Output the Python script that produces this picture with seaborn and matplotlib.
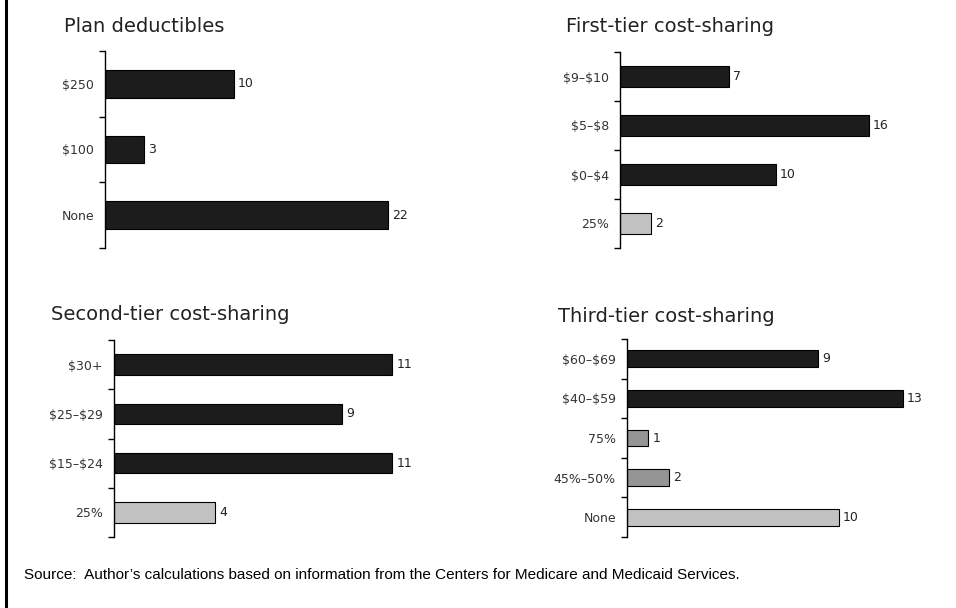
import matplotlib
matplotlib.use("Agg")
import matplotlib.pyplot as plt
from matplotlib.lines import Line2D
import seaborn as sns

# data
deduct_labels = ["$250", "$100", "None"]
deduct_values = [10, 3, 22]
deduct_colors = ["#1c1c1c", "#1c1c1c", "#1c1c1c"]

tier1_labels = ["$9\u2013$10", "$5\u2013$8", "$0\u2013$4", "25%"]
tier1_values = [7, 16, 10, 2]
tier1_colors = ["#1c1c1c", "#1c1c1c", "#1c1c1c", "#c2c2c2"]

tier2_labels = ["$30+", "$25\u2013$29", "$15\u2013$24", "25%"]
tier2_values = [11, 9, 11, 4]
tier2_colors = ["#1c1c1c", "#1c1c1c", "#1c1c1c", "#c2c2c2"]

tier3_labels = ["$60\u2013$69", "$40\u2013$59", "75%", "45%\u201350%", "None"]
tier3_values = [9, 13, 1, 2, 10]
tier3_colors = ["#1c1c1c", "#1c1c1c", "#959595", "#959595", "#c2c2c2"]

SOURCE = "Source:  Author\u2019s calculations based on information from the Centers for Medicare and Medicaid Services."

W, H = 956, 608


def px_box(left, top, right, bottom):
    return [left / W, (H - bottom) / H, (right - left) / W, (bottom - top) / H]


def panel(fig, box, title, title_xy, labels, values, colors, xmax):
    ax = fig.add_axes(px_box(*box))
    sns.barplot(
        x=values,
        y=labels,
        hue=labels,
        palette=colors,
        width=0.42,
        edgecolor="black",
        linewidth=0.8,
        legend=False,
        saturation=1,
        ax=ax,
    )
    n = len(labels)
    ax.set_xlim(0, xmax)
    ax.set_ylim(n - 0.5, -0.5)
    for side in ["top", "right", "bottom"]:
        ax.spines[side].set_visible(False)
    ax.spines["left"].set_linewidth(1.0)
    ax.spines["left"].set_color("black")
    ax.set_xticks([])
    ax.set_xlabel("")
    ax.set_ylabel("")
    ax.set_yticks(range(n))
    ax.set_yticklabels(labels, fontsize=9, color="#333333")
    ax.set_yticks([i - 0.5 for i in range(n + 1)], minor=True)
    ax.tick_params(axis="y", which="major", left=False, length=0, pad=8)
    ax.tick_params(axis="y", which="minor", left=True, length=4, width=1.0,
                   direction="out", color="black")
    ax.set_facecolor("none")
    for i, v in enumerate(values):
        ax.annotate(
            f"{v}",
            xy=(v, i),
            xytext=(3, 0),
            textcoords="offset points",
            va="center",
            ha="left",
            fontsize=9,
            color="#222222",
        )
    fig.text(
        title_xy[0] / W,
        (H - title_xy[1]) / H,
        title,
        fontsize=14,
        ha="left",
        va="center",
        color="#222222",
    )
    return ax


sns.set_theme(style="white")
plt.rcParams["font.family"] = ["DejaVu Sans"]
plt.rcParams["text.parse_math"] = False

fig = plt.figure(figsize=(W / 100, H / 100), dpi=100)
fig.patch.set_facecolor("white")

panel(fig, (105, 51, 425, 248), "Plan deductibles", (64, 27),
      deduct_labels, deduct_values, deduct_colors, 320 / 12.87)
panel(fig, (620, 52, 931, 248), "First-tier cost-sharing", (566, 26),
      tier1_labels, tier1_values, tier1_colors, 311 / 15.56)
panel(fig, (114, 340, 468, 537), "Second-tier cost-sharing", (51, 314),
      tier2_labels, tier2_values, tier2_colors, 354 / 25.3)
panel(fig, (627, 339, 945, 537), "Third-tier cost-sharing", (558, 316),
      tier3_labels, tier3_values, tier3_colors, 318 / 21.2)

fig.text(24 / W, (H - 575) / H, SOURCE, family="Liberation Sans",
         fontsize=11, ha="left", va="center", color="black")
fig.add_artist(Line2D([6 / W, 6 / W], [0, 1], transform=fig.transFigure,
                      color="black", lw=2.2))

fig.savefig("out.png", dpi=100)
